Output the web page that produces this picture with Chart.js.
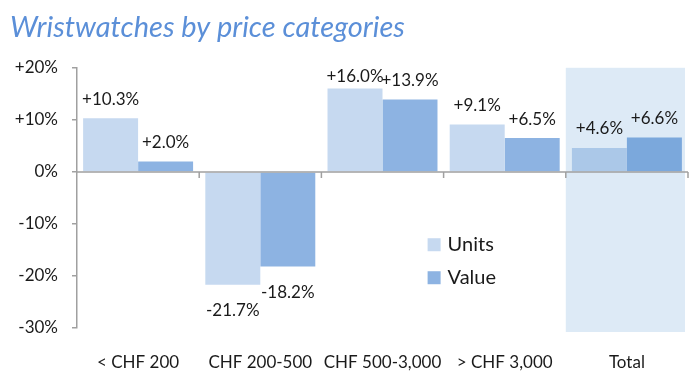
<!DOCTYPE html>
<html>
<head>
<meta charset="utf-8">
<script src="https://cdn.jsdelivr.net/npm/chart.js@4"></script>
<style>
  html, body { margin: 0; padding: 0; background: #fff; }
  #wrap { width: 700px; height: 386px; }
</style>
</head>
<body>
<div id="wrap"><canvas id="watchChart" width="700" height="386"></canvas></div>
<script>
// categories and series values (% change)
var categories = ['< CHF 200', 'CHF 200-500', 'CHF 500-3,000', '> CHF 3,000', 'Total'];
var unitsChange = [10.3, -21.7, 16.0, 9.1, 4.6];
var valueChange = [2.0, -18.2, 13.9, 6.5, 6.6];
var seriesNames = ['Units', 'Value'];
var yTicks = [20, 10, 0, -10, -20, -30];

var FONT = 'Lato, "Noto Sans", sans-serif';
var unitsColor = '#c6d9f0', unitsTotalColor = '#abc8e8';
var valueColor = '#8db3e2', valueTotalColor = '#7ba8dc';
var totalIndex = categories.length - 1;

function fmt(v) {
    return (v > 0 ? '+' : '') + v.toFixed(1) + '%';
}

// shaded band behind the "Total" category
var totalBand = {
    id: 'totalBand',
    beforeDatasetsDraw: function(chart) {
        var x = chart.scales.x, y = chart.scales.y, ctx = chart.ctx;
        var half = (x.getPixelForValue(1) - x.getPixelForValue(0)) / 2;
        var cx = x.getPixelForValue(totalIndex);
        ctx.save();
        ctx.fillStyle = '#ddeaf6';
        ctx.fillRect(cx - half, y.getPixelForValue(yTicks[0]), half * 2 - 3, y.bottom - y.top + 4);
        ctx.restore();
    }
};

// zero line tick marks at category boundaries + value labels + legend
var extras = {
    id: 'extras',
    afterDatasetsDraw: function(chart) {
        var ctx = chart.ctx, x = chart.scales.x, y = chart.scales.y;
        var zero = y.getPixelForValue(0);
        var half = (x.getPixelForValue(1) - x.getPixelForValue(0)) / 2;
        ctx.save();
        ctx.strokeStyle = '#a0a0a0';
        ctx.lineWidth = 1.5;
        ctx.beginPath();
        ctx.moveTo(x.left, zero);
        ctx.lineTo(x.right, zero);
        for (var i = 1; i <= categories.length; i++) {
            var bx = x.getPixelForValue(i) - half;
            if (i === categories.length) bx = x.right;
            ctx.moveTo(bx, zero);
            ctx.lineTo(bx, zero + 6);
        }
        ctx.stroke();

        ctx.fillStyle = '#1a1a1a';
        ctx.font = '17px ' + FONT;
        ctx.textAlign = 'center';
        ctx.textBaseline = 'middle';
        chart.data.datasets.forEach(function(ds, di) {
            chart.getDatasetMeta(di).data.forEach(function(bar, i) {
                var v = ds.data[i];
                var ty = v >= 0 ? Math.max(bar.y - 19, y.top + 9) : bar.y + 26;
                ctx.fillText(fmt(v), bar.x, ty);
            });
        });

        // legend inside the plot
        var lx = x.getPixelForValue(3) - half - 16;
        var ly = y.getPixelForValue(-14);
        ctx.font = '20px ' + FONT;
        ctx.textAlign = 'left';
        chart.data.datasets.forEach(function(ds, di) {
            var yy = ly + di * 33;
            ctx.fillStyle = di === 0 ? unitsColor : valueColor;
            ctx.fillRect(lx, yy - 6.5, 13, 13);
            ctx.fillStyle = '#1a1a1a';
            ctx.fillText(ds.label, lx + 20, yy);
        });
        ctx.restore();
    }
};

var ctx = document.getElementById('watchChart').getContext('2d');
new Chart(ctx, {
    type: 'bar',
    data: {
        labels: categories,
        datasets: [{
            label: seriesNames[0],
            data: unitsChange,
            backgroundColor: function(c) { return c.dataIndex === totalIndex ? unitsTotalColor : unitsColor; },
            barPercentage: 1.0,
            categoryPercentage: 0.9
        }, {
            label: seriesNames[1],
            data: valueChange,
            backgroundColor: function(c) { return c.dataIndex === totalIndex ? valueTotalColor : valueColor; },
            barPercentage: 1.0,
            categoryPercentage: 0.9
        }]
    },
    options: {
        responsive: false,
        animation: false,
        layout: { padding: { left: 10, right: 12, bottom: 0, top: 0 } },
        plugins: {
            legend: { display: false },
            tooltip: { enabled: false },
            title: {
                display: true,
                text: 'Wristwatches by price categories',
                align: 'start',
                color: '#5b8fd8',
                font: { family: FONT, size: 29, style: 'italic', weight: 'normal' },
                padding: { top: 10, bottom: 23 }
            }
        },
        scales: {
            x: {
                grid: { display: false, drawTicks: false },
                border: { display: false },
                afterFit: function(s) { s.height = 58; },
                ticks: {
                    color: '#1a1a1a',
                    font: { family: FONT, size: 17 },
                    padding: 24,
                    maxRotation: 0,
                    minRotation: 0,
                    autoSkip: false
                }
            },
            y: {
                min: -30,
                max: 20,
                afterBuildTicks: function(s) { s.ticks = yTicks.map(function(v) { return { value: v }; }); },
                afterFit: function(s) { s.width = 67; },
                border: { display: true, color: '#a0a0a0', width: 1.5 },
                grid: { drawOnChartArea: false, tickLength: 5, tickColor: '#a0a0a0', lineWidth: 1.5 },
                ticks: {
                    color: '#1a1a1a',
                    padding: 14,
                    font: { family: FONT, size: 17 },
                    callback: function(v) { return (v > 0 ? '+' : '') + v + '%'; }
                }
            }
        }
    },
    plugins: [totalBand, extras]
});
</script>
</body>
</html>
